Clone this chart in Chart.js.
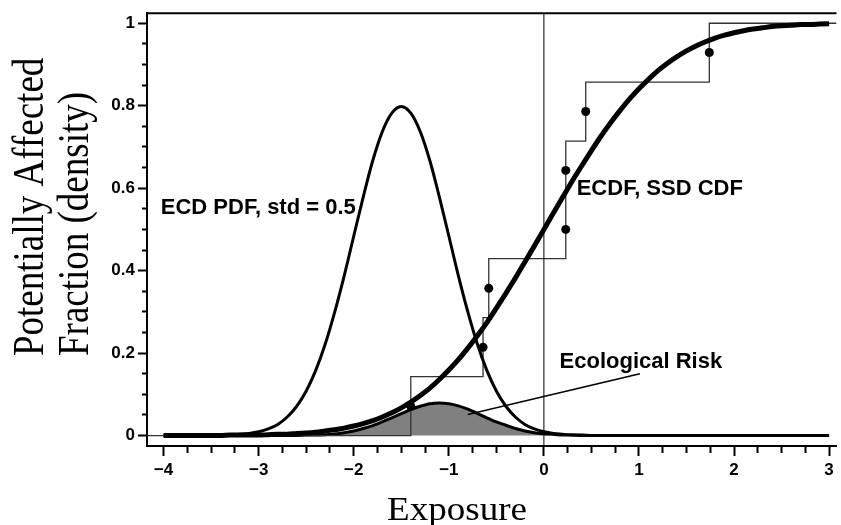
<!DOCTYPE html>
<html lang="en">
<head>
<meta charset="UTF-8" />
<title>Ecological Risk</title>
<script src="https://cdn.jsdelivr.net/npm/chart.js@4.4.1/dist/chart.umd.min.js"></script>
<style>
    html, body { margin: 0; padding: 0; background: #fff; }
    canvas { display: block; }
</style>
</head>
<body>
<canvas id="myChart" width="841" height="525"></canvas>
<script>
// exposure grid used by the three smooth curves
const xValues = [
    -4.0, -3.9, -3.8, -3.7, -3.6, -3.5, -3.4, -3.3, -3.2, -3.1,
    -3.0, -2.9, -2.8, -2.7, -2.6, -2.5, -2.4, -2.3, -2.2, -2.1,
    -2.0, -1.9, -1.8, -1.7, -1.6, -1.5, -1.4, -1.3, -1.2, -1.1,
    -1.0, -0.9, -0.8, -0.7, -0.6, -0.5, -0.4, -0.3, -0.2, -0.1,
    0.0, 0.1, 0.2, 0.3, 0.4, 0.5, 0.6, 0.7, 0.8, 0.9,
    1.0, 1.1, 1.2, 1.3, 1.4, 1.5, 1.6, 1.7, 1.8, 1.9,
    2.0, 2.1, 2.2, 2.3, 2.4, 2.5, 2.6, 2.7, 2.8, 2.9, 3.0
];
// ECD PDF (std = 0.5)
const ecdPdf = [
    0, 0, 0, 0, 0, 0, 0.001, 0.001, 0.003, 0.005,
    0.009, 0.016, 0.027, 0.045, 0.071, 0.108, 0.158, 0.222, 0.3, 0.388,
    0.484, 0.579, 0.667, 0.737, 0.782, 0.798, 0.782, 0.737, 0.667, 0.579,
    0.484, 0.388, 0.3, 0.222, 0.158, 0.108, 0.071, 0.045, 0.027, 0.016,
    0.009, 0.005, 0.003, 0.001, 0.001, 0, 0, 0, 0, 0,
    0, 0, 0, 0, 0, 0, 0, 0, 0, 0,
    0, 0, 0, 0, 0, 0, 0, 0, 0, 0, 0
];
// SSD CDF
const ssdCdf = [
    0, 0, 0, 0, 0, 0, 0, 0.001, 0.001, 0.001,
    0.001, 0.002, 0.003, 0.003, 0.005, 0.006, 0.008, 0.011, 0.014, 0.018,
    0.023, 0.029, 0.036, 0.045, 0.055, 0.067, 0.081, 0.097, 0.115, 0.136,
    0.159, 0.184, 0.212, 0.242, 0.274, 0.309, 0.345, 0.382, 0.421, 0.46,
    0.5, 0.54, 0.579, 0.618, 0.655, 0.691, 0.726, 0.758, 0.788, 0.816,
    0.841, 0.864, 0.885, 0.903, 0.919, 0.933, 0.945, 0.955, 0.964, 0.971,
    0.977, 0.982, 0.986, 0.989, 0.992, 0.994, 0.995, 0.997, 0.997, 0.998, 0.999
];
// ecological risk (shaded area)
const riskDensity = [
    0, 0, 0, 0, 0, 0, 0, 0, 0, 0,
    0, 0, 0, 0, 0, 0.001, 0.001, 0.002, 0.004, 0.007,
    0.011, 0.017, 0.024, 0.033, 0.043, 0.053, 0.063, 0.071, 0.077, 0.079,
    0.077, 0.072, 0.064, 0.054, 0.043, 0.033, 0.025, 0.017, 0.011, 0.007,
    0.004, 0.003, 0.001, 0.001, 0, 0, 0, 0, 0, 0,
    0, 0, 0, 0, 0, 0, 0, 0, 0, 0,
    0, 0, 0, 0, 0, 0, 0, 0, 0, 0, 0
];

// species sensitivities (ECDF)
const ecdfX = [-1.40, -0.64, -0.58, 0.23, 0.23, 0.44, 1.74];
const ecdfDots = [0.071, 0.214, 0.357, 0.5, 0.643, 0.786, 0.929];
const stepX = [-4.175, -1.40, -0.64, -0.58, 0.23, 0.44, 1.74, 3.078];
const stepLevels = [0, 0.143, 0.286, 0.429, 0.714, 0.857, 1, 1];

// pointer for the "Ecological Risk" label
const noteX = [1.01, -0.80];
const noteY = [0.150, 0.051];

const refX = 0;
const xTicks = [-4, -3, -2, -1, 0, 1, 2, 3];
const yTicks = [0, 0.2, 0.4, 0.6, 0.8, 1];

const xMin = -4.175, xMax = 3.078;
const yMin = -0.0254, yMax = 1.0244;

const sans = '"Liberation Sans", Arial, Helvetica, sans-serif';
const serif = '"Liberation Serif", "Times New Roman", Times, serif';

const pts = (xs, ys) => xs.map((x, i) => ({ x: x, y: ys[i] }));

// majors plus minor ticks between them
function tickList(majors, step) {
    const out = [];
    const first = majors[0], last = majors[majors.length - 1];
    const n = Math.round((last - first) / step);
    for (let i = 0; i <= n; i++) {
        const v = Math.round((first + i * step) * 1000) / 1000;
        out.push({ value: v, major: majors.includes(v) });
    }
    return out;
}

const fmtX = (v) => (v < 0 ? "\u2212" + (-v) : String(v));

const textPlugin = {
    id: "texts",
    afterDraw(chart) {
        const { ctx, chartArea, scales } = chart;
        const x = scales.x, y = scales.y;
        ctx.save();

        // top frame line
        ctx.strokeStyle = "#000";
        ctx.lineWidth = 2;
        ctx.beginPath();
        ctx.moveTo(chartArea.left - 1, chartArea.top);
        ctx.lineTo(chartArea.right, chartArea.top);
        ctx.stroke();

        ctx.fillStyle = "#000";
        ctx.textBaseline = "alphabetic";
        ctx.textAlign = "left";
        ctx.font = "bold 22px " + sans;
        ctx.fillText("ECD PDF, std = 0.5", x.getPixelForValue(-4.03), y.getPixelForValue(0.537));
        ctx.fillText("ECDF, SSD CDF", x.getPixelForValue(0.345), y.getPixelForValue(0.583));
        ctx.fillText("Ecological Risk", x.getPixelForValue(0.165), y.getPixelForValue(0.164));

        // x title
        ctx.font = "33px " + serif;
        let w = ctx.measureText("Exposure").width;
        ctx.save();
        ctx.translate(387, 520);
        ctx.scale(140 / w, 1);
        ctx.fillText("Exposure", 0, 0);
        ctx.restore();

        // y title, two lines reading upward
        ctx.font = "37px " + serif;
        const lines = [["Potentially Affected", 43], ["Fraction (density)", 88]];
        lines.forEach(([t, bx]) => {
            ctx.save();
            ctx.translate(bx, 356);
            ctx.rotate(-Math.PI / 2);
            ctx.scale(1, 1.2);
            ctx.fillText(t, 0, 0);
            ctx.restore();
        });
        ctx.restore();
    }
};

const lineBase = { pointRadius: 0, borderColor: "#000", fill: false };

const chart = new Chart("myChart", {
    type: "line",
    data: {
        datasets: [
            { ...lineBase, data: pts(noteX, noteY), borderWidth: 1.5, order: 0 },
            {
                data: pts(ecdfX, ecdfDots), showLine: false, pointRadius: 4.5,
                pointBackgroundColor: "#000", pointBorderWidth: 0, order: 1
            },
            { ...lineBase, data: pts(xValues, ssdCdf), borderWidth: 5, cubicInterpolationMode: "monotone", order: 2 },
            { ...lineBase, data: pts(xValues, ecdPdf), borderWidth: 3, cubicInterpolationMode: "monotone", order: 3 },
            { ...lineBase, data: [{ x: refX, y: yMin }, { x: refX, y: yMax }], borderWidth: 1, order: 4 },
            { ...lineBase, data: pts(stepX, stepLevels), stepped: "before", borderColor: "#333", borderWidth: 1.3, order: 5 },
            {
                ...lineBase, data: pts(xValues, riskDensity), borderWidth: 3,
                cubicInterpolationMode: "monotone", fill: "origin", backgroundColor: "#808080", order: 6
            }
        ]
    },
    options: {
        responsive: false,
        animation: false,
        events: [],
        layout: { padding: { top: 12, right: 0, bottom: 0, left: 0 } },
        plugins: { legend: { display: false }, tooltip: { enabled: false } },
        scales: {
            x: {
                type: "linear",
                min: xMin,
                max: xMax,
                afterBuildTicks: (axis) => { axis.ticks = tickList(xTicks, 0.25); },
                afterFit: (axis) => { axis.height = 79; },
                border: { color: "#000", width: 2 },
                grid: {
                    drawOnChartArea: false,
                    tickLength: 10,
                    tickWidth: 2,
                    tickColor: "#000",
                    tickBorderDash: (c) => (c.tick && c.tick.major ? [] : [6, 30])
                },
                ticks: {
                    autoSkip: false,
                    maxRotation: 0,
                    color: "#000",
                    padding: 4,
                    font: { family: sans, size: 17, weight: "bold" },
                    callback: (v, i, t) => (t[i].major ? fmtX(v) : "")
                }
            },
            y: {
                min: yMin,
                max: yMax,
                afterBuildTicks: (axis) => { axis.ticks = tickList(yTicks, 0.05); },
                afterFit: (axis) => { axis.width = 147; },
                border: { color: "#000", width: 2 },
                grid: {
                    drawOnChartArea: false,
                    tickLength: 9,
                    tickWidth: 2,
                    tickColor: "#000",
                    tickBorderDash: (c) => (c.tick && c.tick.major ? [] : [0, 4, 5, 40])
                },
                ticks: {
                    autoSkip: false,
                    color: "#000",
                    padding: 3,
                    font: { family: sans, size: 17, weight: "bold" },
                    callback: (v, i, t) => (t[i].major ? String(v) : "")
                }
            }
        }
    },
    plugins: [textPlugin]
});
</script>
</body>
</html>
